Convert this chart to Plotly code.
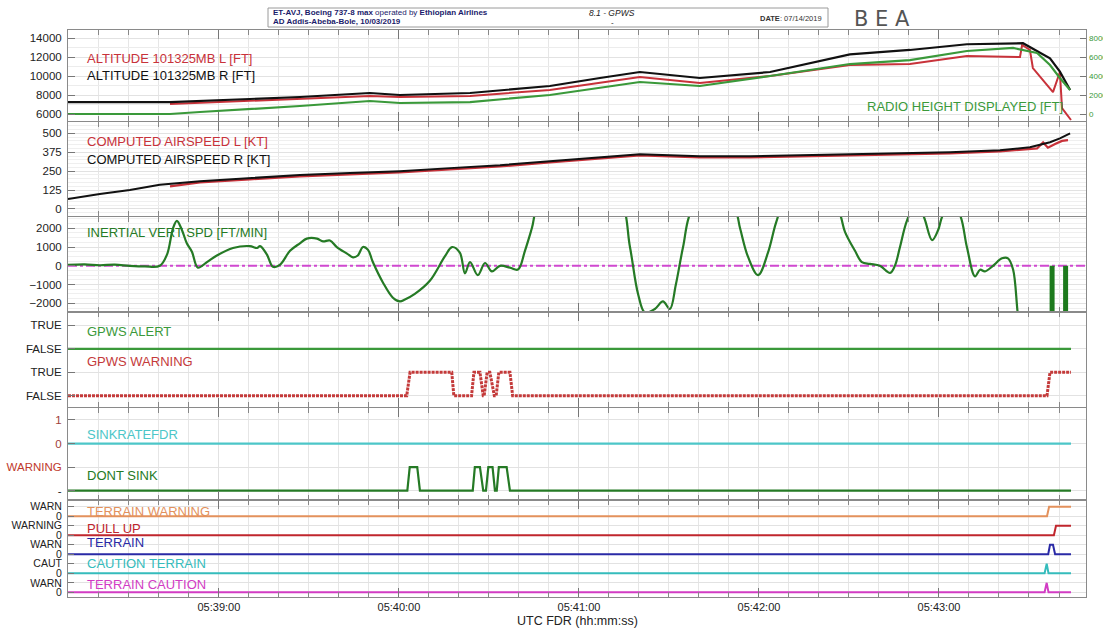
import plotly.graph_objects as go
import pandas as pd

BASE = pd.Timestamp("2019-03-10 05:38:00")
def T(secs):
    return [BASE + pd.Timedelta(seconds=float(s)) for s in secs]

# ---------------- data (time = seconds after 05:38:00) ----------------
alt_r_t = [9.7, 43.7, 70.3, 87, 110.3, 120.3, 143.7, 170.3, 187, 200.3, 220.3, 243.7, 270.3, 290.3, 309.3, 326, 328, 337, 340.3, 343.7]
alt_r_v = [7260, 7260, 7580, 7790, 8210, 8000, 8210, 8950, 9790, 10420, 9790, 10420, 12280, 12740, 13340, 13440, 13450, 11860, 10460, 8520]

alt_l_t = [43.7, 70.3, 87, 110.3, 120.3, 143.7, 170.3, 200.3, 220.3, 243.7, 270.3, 290.3, 309.3, 327, 327.7, 330.3, 331.3, 338, 340.3, 341, 344]
alt_l_v = [7050, 7370, 7580, 7900, 7790, 7900, 8530, 9900, 9260, 10000, 11160, 11260, 12100, 12000, 13260, 12740, 10840, 8310, 10420, 6630, 5370]

rh_t = [9.7, 43.7, 53.7, 70.3, 87, 110.3, 120.3, 143.7, 170.3, 200.3, 220.3, 243.7, 270.3, 290.3, 309.3, 324.7, 332.7, 337, 340.3, 343.7]
rh_v = [0, 0, 210, 530, 840, 1370, 1160, 1260, 2000, 3370, 2950, 4000, 5260, 5680, 6630, 6950, 6420, 5160, 3790, 2530]

cas_r_t = [9.7, 20.3, 30.3, 40.3, 53.7, 70.3, 87, 103.7, 120.3, 137, 153.7, 170.3, 187, 200.3, 220.3, 237, 253.7, 270.3, 287, 303.7, 320.3, 330.3, 337, 340.3, 343.7]
cas_r_v = [66, 99, 125, 160, 184, 204, 224, 237, 250, 270, 289, 316, 342, 362, 349, 349, 355, 362, 368, 375, 388, 408, 441, 467, 500]

cas_l_t = [43.7, 53.7, 70.3, 87, 103.7, 120.3, 137, 153.7, 170.3, 187, 200.3, 220.3, 237, 253.7, 270.3, 287, 303.7, 320.3, 330.3, 332.7, 334.7, 336.3, 338.7, 341, 343]
cas_l_v = [150, 176, 196, 216, 229, 242, 262, 281, 308, 334, 354, 341, 341, 347, 354, 360, 367, 380, 398, 400, 440, 405, 430, 450, 455]

ivs_t = [9.7, 15.3, 20.3, 25.3, 30.3, 35.3, 40.3, 42.7, 44.7, 46, 47.7, 49.3, 51, 53, 56, 59.3, 64.7, 70.3, 72.7, 73.7, 76, 78, 80.3, 83.7, 87, 89.3, 92.7, 94.7, 97, 99.3, 102.7, 104.7, 106.3, 108, 109.7, 111.3, 114.7, 118, 120.3, 122, 125.3, 130.3, 135.3, 137.7, 140.3, 142, 143.7, 146.3, 148.7, 151, 153.7, 157, 159.7, 162, 164.3, 167, 180.3, 193.7, 197, 199.7, 202, 205.3, 208, 210.3, 212.3, 214.7, 217.7, 225.3, 232, 233.7, 236.3, 239.7, 243, 245.7, 248.7, 257, 266.3, 268.7, 272, 274.3, 277, 280.3, 283.7, 285.3, 287, 289.3, 292, 294.7, 297.7, 299.7, 301.3, 304.3, 307, 309.3, 312, 313.7, 315.3, 318, 321, 323, 324.7, 326.3, 327.7]
ivs_v = [50, 80, 30, 60, 0, -30, 0, 600, 2000, 2400, 1900, 1200, 750, -100, 200, 550, 950, 1050, 950, 1050, 600, -50, 50, 800, 1200, 1450, 1450, 1300, 1350, 1000, 650, 450, 550, 1000, 850, 200, -900, -1700, -1900, -1800, -1500, -800, 500, 1000, 700, -400, 200, -500, 150, -300, 0, -100, -200, 800, 2000, 3500, 5000, 3500, 1000, -1500, -2500, -2300, -1900, -2300, -1000, 1000, 3000, 4000, 3000, 2000, 500, -500, 700, 2300, 3500, 4500, 3000, 1800, 800, 200, 100, 0, -380, 0, 1000, 2400, 3200, 2700, 1370, 1900, 2700, 3200, 2700, 1000, -560, -210, -300, 0, 400, 400, -200, -2600, -4000]

ivs_bar_t = [337.7, 342.2]
ivs_bar_top = [0, 0]
ivs_bar_bottom = [-2600, -2600]

gpws_alert_t = [9.7, 344]
gpws_alert_v = [0, 0]

gpws_warn_t = [9.7, 122.6, 123.7, 137.6, 138.3, 144.2, 145, 147, 148.1, 148.4, 149.4, 150.3, 151.8, 152.4, 153.3, 157, 157.9, 336, 337, 344]
gpws_warn_v = [0, 0, 1, 1, 0, 0, 1, 1, 0, 0, 1, 1, 0, 0, 1, 1, 0, 0, 1, 1]

sinkrate_t = [9.7, 344]
sinkrate_v = [0, 0]

dont_sink_t = [9.7, 122.8, 123.6, 126.1, 127, 144.6, 145.3, 147, 148.1, 149, 149.8, 151.2, 152, 152.6, 153.3, 155.9, 157, 344]
dont_sink_v = [0, 0, 1, 1, 0, 0, 1, 1, 0, 0, 1, 1, 0, 0, 1, 1, 0, 0]

terr_warn_t = [9.7, 336, 336.7, 344]
terr_warn_v = [0, 0, 1, 1]
pull_up_t = [9.7, 338.3, 339, 344]
pull_up_v = [0, 0, 1, 1]
terrain_t = [9.7, 336.4, 337, 338, 338.7, 344]
terrain_v = [0, 0, 1, 1, 0, 0]
caut_terr_t = [9.7, 335.2, 335.9, 336.5, 344]
caut_terr_v = [0, 0, 1, 0, 0]
terr_caut_t = [9.7, 335.2, 335.9, 336.5, 344]
terr_caut_v = [0, 0, 1, 0, 0]

x_range_s = [9.7, 349]

p1_tickvals = [6000, 8000, 10000, 12000, 14000]
rh_tickvals = [0, 2000, 4000, 6000, 8000]
p2_tickvals = [0, 125, 250, 375, 500]
p3_tickvals = [-2000, -1000, 0, 1000, 2000]
p4_tickvals = [0, 1, 2, 3]
p4_ticktext = ["FALSE", "TRUE", "FALSE", "TRUE"]
p5_tickvals = [0, 1, 2, 3]
p5_ticktext = ["-", "<span style='color:#c0392b'>WARNING</span>",
               "<span style='color:#a0403a'>0</span>", "<span style='color:#a0403a'>1</span>"]
p6_tickvals = [0, 1, 2, 3, 4, 5, 6, 7, 8, 9]
p6_ticktext = ["0", "WARN", "0", "CAUT", "0", "WARN", "0", "WARNING", "0", "WARN"]

# ---------------- colours ----------------
RED = "#c8323a"
BLACK = "#111111"
GREEN = "#3a993a"
DGREEN = "#257a25"
MAGENTA = "#d048d0"
CYAN = "#4cc6c8"
ORANGE = "#e3915c"
DRED = "#c0262d"
BLUE = "#2a2aa6"
TEAL = "#35bcbc"
PINK = "#d23cc4"

fig = go.Figure()

def add(t, v, color, xa, ya, width=2, dash="solid", shape="linear", offset=0):
    fig.add_trace(go.Scatter(x=T(t), y=[val + offset for val in v], mode="lines",
                             line=dict(color=color, width=width, dash=dash, shape=shape),
                             xaxis=xa, yaxis=ya, hoverinfo="skip"))

# panel 1
add(rh_t, rh_v, GREEN, "x", "y7", 2.2)
add(alt_l_t, alt_l_v, RED, "x", "y", 2)
add(alt_r_t, alt_r_v, BLACK, "x", "y", 2.2)
# panel 2
add(cas_l_t, cas_l_v, RED, "x2", "y2", 2.2)
add(cas_r_t, cas_r_v, BLACK, "x2", "y2", 2)
# panel 3
add(x_range_s, [0, 0], MAGENTA, "x3", "y3", 2, dash="dashdot")
add(ivs_t, ivs_v, DGREEN, "x3", "y3", 2.2, shape="spline")
for bt, b0, b1 in zip(ivs_bar_t, ivs_bar_top, ivs_bar_bottom):
    add([bt, bt], [b0, b1], "#1d7a1d", "x3", "y3", 5)
# panel 4
add(gpws_alert_t, gpws_alert_v, GREEN, "x4", "y4", 2.2, offset=2)
add(gpws_warn_t, gpws_warn_v, "#c43a3a", "x4", "y4", 3, dash="3px,1px")
# panel 5
add(sinkrate_t, sinkrate_v, CYAN, "x5", "y5", 2.2, offset=2)
add(dont_sink_t, dont_sink_v, DGREEN, "x5", "y5", 2.2)
# panel 6
add(terr_warn_t, terr_warn_v, ORANGE, "x6", "y6", 2, offset=8)
add(pull_up_t, pull_up_v, DRED, "x6", "y6", 2, offset=6)
add(terrain_t, terrain_v, BLUE, "x6", "y6", 2, offset=4)
add(caut_terr_t, caut_terr_v, TEAL, "x6", "y6", 2, offset=2)
add(terr_caut_t, terr_caut_v, PINK, "x6", "y6", 2, offset=0)

FONT = "Liberation Sans, Arial, sans-serif"
rng = T(x_range_s)

def xax(anchor, labels=False):
    return dict(type="date", range=rng, anchor=anchor, domain=[0, 1], automargin=False,
                tick0=BASE, dtick=60000, tickformat="%H:%M:%S",
                showticklabels=labels, ticks="inside", ticklen=9, tickcolor="#777",
                showline=True, linecolor="#8a8a8a", mirror="ticks", linewidth=1,
                showgrid=True, gridcolor="#e2e2e2",
                minor=dict(dtick=10000, ticks="inside", ticklen=5, tickcolor="#888",
                           showgrid=True, gridcolor="#e6e6e6"),
                tickfont=dict(size=11, color="#222"), ticklabelstandoff=0, zeroline=False)

def yax(domain, rngv, **kw):
    d = dict(domain=domain, range=rngv, showline=True, linecolor="#8a8a8a", mirror=True,
             automargin=False, tickformat="d",
             ticks="inside", ticklen=7, tickcolor="#777", showgrid=True, gridcolor="#e2e2e2",
             zeroline=False, tickfont=dict(size=11.5, color="#222"), ticklabelstandoff=3)
    d.update(kw)
    return d

layout = dict(
    width=1103, height=628,
    margin=dict(l=68, r=17, t=30, b=31, autoexpand=False),
    paper_bgcolor="white", plot_bgcolor="white",
    showlegend=False, font=dict(family=FONT, color="#222"),
    xaxis=xax("y"), xaxis2=xax("y2"), xaxis3=xax("y3"), xaxis4=xax("y4"), xaxis5=xax("y5"),
    xaxis6=xax("y6", True),
    yaxis=yax([0.8395, 1.0], [5263, 14842], tickvals=p1_tickvals,
              minor=dict(dtick=1000, showgrid=True, gridcolor="#ececec")),
    yaxis7=dict(overlaying="y", side="right", anchor="x", range=[-737, 8842], automargin=False,
                tickvals=rh_tickvals, tickformat="d", ticks="inside", ticklen=6, tickcolor="#777",
                showgrid=False, zeroline=False, tickfont=dict(size=8, color=GREEN), ticklabelstandoff=2),
    yaxis2=yax([0.6711, 0.8377], [-49.5, 574.6], tickvals=p2_tickvals,
               minor=dict(dtick=25, showgrid=True, gridcolor="#efefef")),
    yaxis3=yax([0.5026, 0.6702], [-2464, 2603], tickvals=p3_tickvals,
               minor=dict(dtick=250, showgrid=True, gridcolor="#efefef")),
    yaxis4=yax([0.3351, 0.5018], [-0.479, 3.552], tickvals=p4_tickvals, ticktext=p4_ticktext),
    yaxis5=yax([0.1711, 0.3342], [-0.395, 3.53], tickvals=p5_tickvals, ticktext=p5_ticktext),
    yaxis6=yax([0.0, 0.1702], [-0.49, 9.65], tickvals=p6_tickvals, ticktext=p6_ticktext,
               ticklen=6, tickfont=dict(size=10.5, color="#222")),
)
for i in range(2, 7):
    layout["xaxis%d" % i]["matches"] = "x"
fig.update_layout(**layout)

def ypx(p):
    return (597 - p) / 567.0

def xpx(p):
    return (p - 68) / 1018.0

labels = [
    ("ALTITUDE 101325MB L [FT]", RED, 58),
    ("ALTITUDE 101325MB R [FT]", BLACK, 75),
    ("COMPUTED AIRSPEED L [KT]", RED, 141),
    ("COMPUTED AIRSPEED R [KT]", BLACK, 159),
    ("INERTIAL VERT SPD [FT/MIN]", DGREEN, 232),
    ("GPWS ALERT", GREEN, 331),
    ("GPWS WARNING", "#c43a3a", 361.5),
    ("SINKRATEFDR", CYAN, 434),
    ("DONT SINK", DGREEN, 475),
    ("TERRAIN WARNING", ORANGE, 511.5),
    ("PULL UP", DRED, 528.5),
    ("TERRAIN", BLUE, 542.5),
    ("CAUTION TERRAIN", TEAL, 563),
    ("TERRAIN CAUTION", PINK, 584),
]
for txt, col, py in labels:
    fig.add_annotation(text=txt, x=xpx(86), y=ypx(py), xref="paper", yref="paper",
                       xanchor="left", yanchor="middle", showarrow=False, borderpad=0,
                       font=dict(size=13, color=col, family=FONT))
fig.add_annotation(text="RADIO HEIGHT DISPLAYED [FT]", x=xpx(1064), y=ypx(106), xref="paper", yref="paper",
                   xanchor="right", yanchor="middle", showarrow=False, borderpad=0,
                   font=dict(size=13, color=GREEN, family=FONT))

# header box
fig.add_shape(type="rect", xref="paper", yref="paper", x0=xpx(268), x1=xpx(828), y0=ypx(27), y1=ypx(8),
              line=dict(color="#9a9a9a", width=1), fillcolor="white")
NAVY = "#1b1b6b"
fig.add_annotation(text="<b>ET-AVJ, Boeing 737-8 max</b> operated by <b>Ethiopian Airlines</b>",
                   x=xpx(272), y=ypx(12.5), xref="paper", yref="paper", xanchor="left", yanchor="middle",
                   showarrow=False, borderpad=0, font=dict(size=8, color=NAVY, family=FONT))
fig.add_annotation(text="<b>AD Addis-Abeba-Bole, 10/03/2019</b>",
                   x=xpx(272), y=ypx(21.5), xref="paper", yref="paper", xanchor="left", yanchor="middle",
                   showarrow=False, borderpad=0, font=dict(size=8, color=NAVY, family=FONT))
fig.add_annotation(text="<i>8.1 - GPWS</i>", x=xpx(612), y=ypx(12.5), xref="paper", yref="paper",
                   xanchor="center", yanchor="middle", showarrow=False, font=dict(size=8.5, color="#222", family=FONT))
fig.add_annotation(text="-", x=xpx(612), y=ypx(22), xref="paper", yref="paper",
                   xanchor="center", yanchor="middle", showarrow=False, font=dict(size=8, color="#222", family=FONT))
fig.add_annotation(text="<b>DATE</b>: 07/14/2019", x=xpx(824), y=ypx(18), xref="paper", yref="paper",
                   xanchor="right", yanchor="middle", showarrow=False, font=dict(size=7.5, color="#333", family=FONT))
fig.add_annotation(text="B E A", x=xpx(853), y=ypx(19), xref="paper", yref="paper",
                   xanchor="left", yanchor="middle", showarrow=False, borderpad=0,
                   font=dict(size=21, color="#555", family="DejaVu Sans, sans-serif"))
fig.add_annotation(text="UTC FDR (hh:mm:ss)", x=xpx(577), y=ypx(620.5), xref="paper", yref="paper",
                   xanchor="center", yanchor="middle", showarrow=False, borderpad=0,
                   font=dict(size=12.5, color="#222", family=FONT))

fig.write_html("out.html", config={"displayModeBar": False},
               post_script="document.body.style.margin='0';document.body.style.overflow='hidden';")
